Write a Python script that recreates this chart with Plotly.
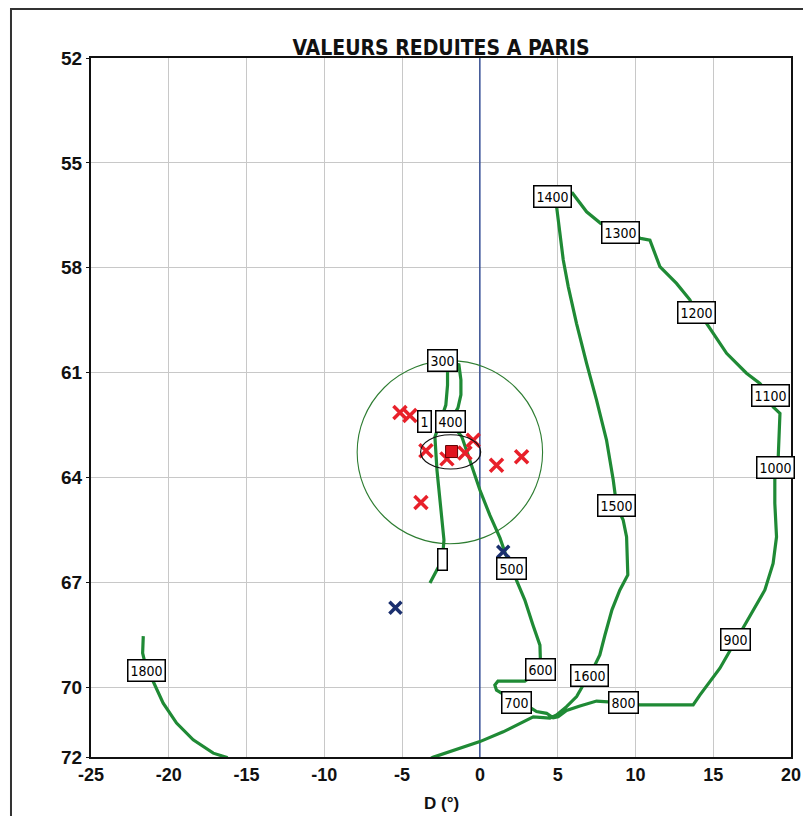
import plotly.graph_objects as go

# ---------------- data ----------------
# main diurnal track (D in degrees, I), from night through the afternoon
TRACK1_D = [-3.21, -2.83, -2.41, -2.31, -2.44, -2.57, -2.76, -2.89, -2.19, -2.08, -2.08, -2.40,
            -1.35, -1.22, -1.22, -1.41, -1.93, -1.16, -0.64, 0.00, 0.64, 1.29, 1.67, 2.04,
            2.44, 2.89, 3.41, 3.86, 3.91, 2.89, 1.16, 0.96, 1.07, 2.36, 3.32, 3.64, 4.29,
            4.71, 5.03, 5.57, 6.43, 7.50, 9.26, 10.29, 13.71, 14.14, 15.43, 16.46, 17.36,
            18.32, 18.85, 19.07, 18.96, 18.96, 19.03, 19.18, 19.29, 18.85, 18.66, 18.00,
            17.14, 15.86, 14.57, 13.90, 13.50, 12.64, 11.57, 11.14, 10.93, 10.33, 9.04,
            7.76, 6.86, 5.96, 4.67, 4.93, 5.14, 5.36, 5.68, 6.21, 6.86, 7.50, 8.14, 8.57,
            8.79, 9.21, 9.43, 9.53, 9.51, 9.00, 8.49, 8.04, 7.71, 7.07, 6.64, 6.22, 5.57,
            4.93, 4.50, 3.43, 2.57, 1.50, 0.00, -1.61, -3.02, -3.86]
TRACK1_I = [67.02, 66.71, 66.35, 65.79, 65.22, 64.65, 63.79, 62.84, 61.93, 61.36, 60.98, 60.66,
            60.78, 61.21, 61.64, 62.01, 62.41, 62.84, 63.50, 64.36, 65.08, 65.73, 66.22, 66.60,
            66.99, 67.51, 68.22, 68.80, 69.51, 69.83, 69.83, 69.94, 70.09, 70.43, 70.61, 70.70,
            70.75, 70.88, 70.85, 70.67, 70.54, 70.40, 70.45, 70.51, 70.51, 70.23, 69.46, 68.65,
            67.94, 67.22, 66.46, 65.70, 64.74, 64.07, 63.73, 63.41, 62.17, 61.98, 61.67, 61.31,
            61.02, 60.45, 59.59, 59.29, 58.92, 58.45, 57.97, 57.44, 57.21, 57.16, 56.98,
            56.73, 56.40, 55.87, 55.95, 56.25, 56.92, 57.78, 58.54, 59.59, 60.74, 61.79, 62.93,
            64.07, 64.81, 65.22, 65.70, 66.65, 66.79, 67.22, 67.79, 68.51, 69.08, 69.66, 69.94,
            70.27, 70.56, 70.80, 70.89, 70.85, 71.04, 71.28, 71.56, 71.80, 72.01, 72.20]
# evening track (around 1800)
TRACK2_D = [-16.00, -16.28, -17.14, -18.43, -19.50, -20.36, -21.00, -21.41, -21.68, -21.64]
TRACK2_I = [72.20, 72.01, 71.89, 71.51, 71.03, 70.46, 69.84, 69.53, 69.03, 68.54]

# hour labels along the track
HOUR_LABELS = ["&nbsp;", "1", "300", "400", "500", "600", "700", "800", "900", "1000",
               "1100", "1200", "1300", "1400", "1500", "1600", "1800"]
LABEL_D = [-2.41, -3.55, -2.40, -1.90, 2.04, 3.91, 2.36, 9.26, 16.46, 19.03,
           18.66, 13.90, 9.04, 4.67, 8.79, 7.07, -21.41]
LABEL_I = [66.35, 62.41, 60.66, 62.41, 66.60, 69.51, 70.43, 70.45, 68.65, 63.73,
           61.67, 59.29, 56.98, 55.95, 64.81, 69.66, 69.53]

# individual reduced measurements
RED_D = [-5.14, -4.50, -3.47, -2.12, -0.96, -0.43, 1.07, 2.68, -3.79]
RED_I = [62.14, 62.23, 63.24, 63.47, 63.30, 62.94, 63.65, 63.41, 64.72]
BLUE_D = [1.50, -5.43]
BLUE_I = [66.13, 67.73]
MEAN_D = [-1.82]
MEAN_I = [63.26]

# confidence circle and ellipse (centre, half-widths in data units)
CIRCLE = dict(d=-1.93, i=63.28, rd=5.96, ri=2.62)
ELLIPSE = dict(d=-1.88, i=63.27, rd=1.93, ri=0.49)

X_TICKS = [-25, -20, -15, -10, -5, 0, 5, 10, 15, 20]
X_TICK_TEXT = [str(v) for v in X_TICKS]
Y_TICKS = [52, 55, 58, 61, 64, 67, 70, 72]

# ---------------- figure ----------------
GREEN = "#1f8a35"
NARROW = "DejaVu Sans Condensed, Liberation Sans Narrow, Liberation Sans, Arial"
fig = go.Figure()

fig.add_trace(go.Scatter(x=TRACK1_D, y=TRACK1_I, mode="lines",
                         line=dict(color=GREEN, width=3.2), hoverinfo="skip"))
fig.add_trace(go.Scatter(x=TRACK2_D, y=TRACK2_I, mode="lines",
                         line=dict(color=GREEN, width=3.2), hoverinfo="skip"))

fig.add_trace(go.Scatter(x=RED_D, y=RED_I, mode="markers",
                         marker=dict(symbol="x-thin", size=13,
                                     line=dict(width=3.5, color="#e8202a"))))
fig.add_trace(go.Scatter(x=BLUE_D, y=BLUE_I, mode="markers",
                         marker=dict(symbol="x-thin", size=12,
                                     line=dict(width=3.5, color="#1a2f6e"))))
fig.add_trace(go.Scatter(x=MEAN_D, y=MEAN_I, mode="markers",
                         marker=dict(symbol="square", size=12, color="#e0141e",
                                     line=dict(width=1, color="#600000"))))

shapes = [
    # zero declination line
    dict(type="line", xref="x", yref="y", x0=0, x1=0, y0=52, y1=72,
         line=dict(color="#203c8c", width=1.3), layer="between"),
    dict(type="circle", xref="x", yref="y",
         x0=CIRCLE["d"] - CIRCLE["rd"], x1=CIRCLE["d"] + CIRCLE["rd"],
         y0=CIRCLE["i"] - CIRCLE["ri"], y1=CIRCLE["i"] + CIRCLE["ri"],
         line=dict(color="#2e7d32", width=1.1)),
    dict(type="circle", xref="x", yref="y",
         x0=ELLIPSE["d"] - ELLIPSE["rd"], x1=ELLIPSE["d"] + ELLIPSE["rd"],
         y0=ELLIPSE["i"] - ELLIPSE["ri"], y1=ELLIPSE["i"] + ELLIPSE["ri"],
         line=dict(color="#111111", width=1.2)),
    # outer frame of the picture
    dict(type="rect", xref="paper", yref="paper", x0=-0.1143, x1=1.0186, y0=-0.2, y1=1.0701,
         line=dict(color="#333333", width=2), layer="below"),
]

annotations = []
for txt, d, i in zip(HOUR_LABELS, LABEL_D, LABEL_I):
    annotations.append(dict(x=d, y=i, xref="x", yref="y", text=txt, showarrow=False,
                            font=dict(family=NARROW, size=14, color="#000"),
                            bgcolor="white", bordercolor="#000", borderwidth=1.5,
                            borderpad=2))
# x-axis title
annotations.append(dict(x=0.5, y=-0.066, xref="paper", yref="paper", text="D (°)",
                        showarrow=False, xanchor="center", yanchor="middle",
                        font=dict(family="Liberation Sans", size=17, color="#111",
                                  weight="bold")))

fig.update_layout(
    width=803, height=808,
    margin=dict(l=83, r=20, t=50, b=59, autoexpand=False),
    paper_bgcolor="white", plot_bgcolor="white",
    showlegend=False,
    title=dict(text="VALEURS REDUITES A PARIS", x=0.5, xanchor="center",
               xref="paper", y=1.0, yref="paper", yanchor="bottom", pad=dict(b=3),
               font=dict(family=NARROW, size=21, color="#111", weight="bold")),
    xaxis=dict(range=[-25, 20], tickvals=X_TICKS, ticktext=X_TICK_TEXT, showgrid=True,
               gridcolor="#c8c8c8", gridwidth=1, zeroline=False, showline=True,
               linecolor="#111", linewidth=2, mirror=True, ticks="", automargin=False,
               tickfont=dict(family="Liberation Sans", size=18, color="#111", weight="bold")),
    yaxis=dict(range=[72, 52], tickvals=Y_TICKS, showgrid=True, gridcolor="#c8c8c8",
               gridwidth=1, zeroline=False, showline=True, linecolor="#111", linewidth=2,
               mirror=True, ticks="outside", ticklen=3, tickcolor="#111", automargin=False,
               tickfont=dict(family="Liberation Sans", size=19, color="#111", weight="bold")),
    shapes=shapes,
    annotations=annotations,
)

fig.write_html("out.html")
